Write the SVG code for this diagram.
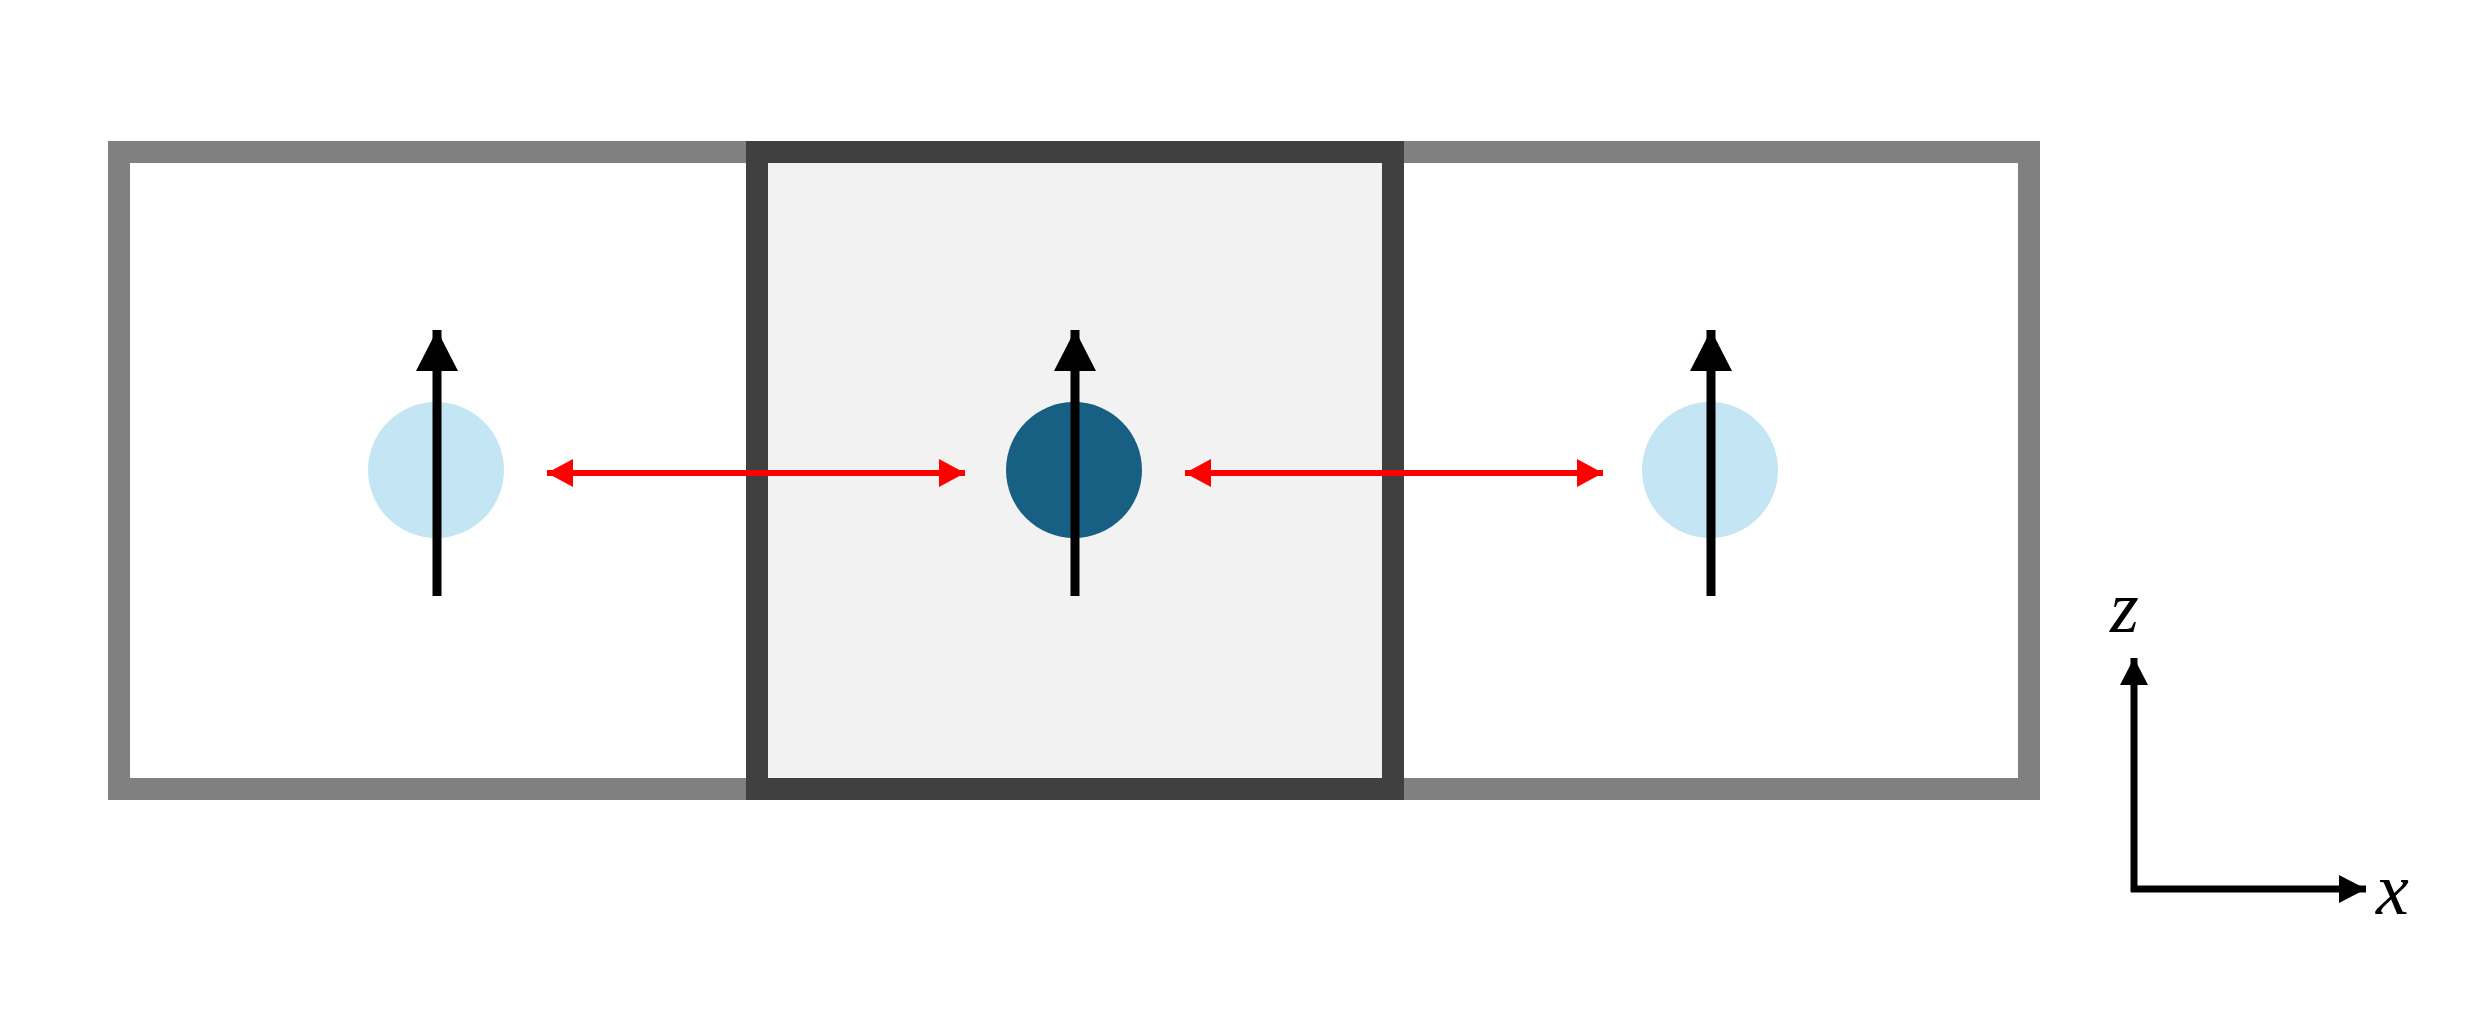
<svg xmlns="http://www.w3.org/2000/svg" width="2488" height="1012" viewBox="0 0 2488 1012">
<style>
.spin{stroke:#000;stroke-width:9;fill:none}
.bond{stroke:#ff0000;stroke-width:6;fill:none}
.ax{stroke:#000;stroke-width:7;fill:none}
.lbl{font-family:"Liberation Serif",serif;font-style:italic;font-size:74px;fill:#000}
</style>
<defs>
<marker id="ah" viewBox="0 0 10 10" refX="10" refY="5" markerWidth="10" markerHeight="10" markerUnits="userSpaceOnUse" orient="auto-start-reverse"><path d="M0,0 L10,5 L0,10 z" fill="#000"/></marker>
<marker id="rh" viewBox="0 0 10 10" refX="10" refY="5" markerWidth="26" markerHeight="28" markerUnits="userSpaceOnUse" orient="auto-start-reverse" preserveAspectRatio="none"><path d="M0,0 L10,5 L0,10 z" fill="#ff0000"/></marker>
<marker id="sh" viewBox="0 0 10 10" refX="10" refY="5" markerWidth="41" markerHeight="42" markerUnits="userSpaceOnUse" orient="auto" preserveAspectRatio="none"><path d="M0,0 L10,5 L0,10 z" fill="#000"/></marker>
<marker id="xh" viewBox="0 0 10 10" refX="10" refY="5" markerWidth="27" markerHeight="28" markerUnits="userSpaceOnUse" orient="auto" preserveAspectRatio="none"><path d="M0,0 L10,5 L0,10 z" fill="#000"/></marker>
</defs>
<rect width="2488" height="1012" fill="#fff"/>
<g id="cell-left"><rect x="119" y="152" width="638" height="637" fill="#fff" stroke="#808080" stroke-width="22"/></g>
<g id="cell-right"><rect x="1393" y="152" width="636" height="637" fill="#fff" stroke="#808080" stroke-width="22"/></g>
<g id="cell-center"><rect x="757" y="152" width="636" height="637" fill="#f2f2f2" stroke="#404040" stroke-width="22"/></g>
<g id="site-left"><circle cx="436" cy="470" r="68" fill="#c3e5f4"/></g>
<g id="site-center"><circle cx="1074" cy="470" r="68" fill="#176083"/></g>
<g id="site-right"><circle cx="1710" cy="470" r="68" fill="#c3e5f4"/></g>
<g id="connectors">
<line class="spin" x1="437" y1="596" x2="437" y2="330" marker-end="url(#sh)"/>
<line class="spin" x1="1075" y1="596" x2="1075" y2="330" marker-end="url(#sh)"/>
<line class="spin" x1="1711" y1="596" x2="1711" y2="330" marker-end="url(#sh)"/>
<line class="bond" x1="547" y1="473" x2="965" y2="473" marker-start="url(#rh)" marker-end="url(#rh)"/>
<line class="bond" x1="1185" y1="473" x2="1603" y2="473" marker-start="url(#rh)" marker-end="url(#rh)"/>
<line class="ax" x1="2134" y1="892" x2="2134" y2="658" marker-end="url(#xh)"/>
<line class="ax" x1="2131" y1="889" x2="2366" y2="889" marker-end="url(#xh)"/>
</g>
<text class="lbl" x="2110" y="632">z</text>
<text class="lbl" x="2376" y="914">x</text>
</svg>
